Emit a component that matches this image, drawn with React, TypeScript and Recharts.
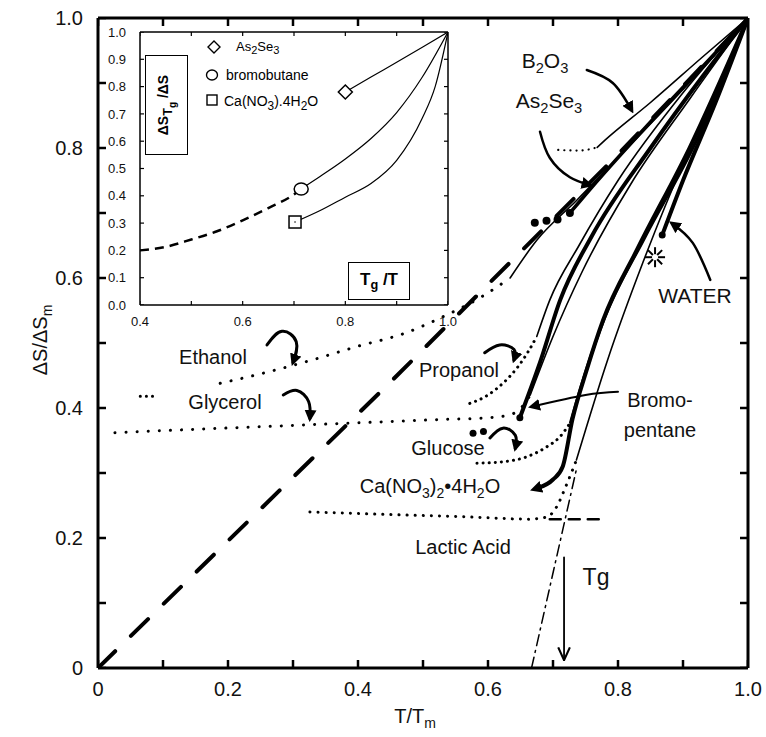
import React from 'react';
import { ComposedChart, Line, Scatter, XAxis, YAxis, ReferenceLine } from 'recharts';

const FONT = '"Liberation Sans", Arial, Helvetica, sans-serif';

// ---------- main chart data (x = T/Tm, y = ΔS/ΔSm) ----------
const mainTicks = [0, 0.1, 0.2, 0.3, 0.4, 0.5, 0.6, 0.7, 0.8, 0.9, 1.0];
const mainLabelled = [0, 0.2, 0.4, 0.6, 0.8, 1.0];

const diagonalDashed = [[0, 0], [0.45, 0.44], [0.63, 0.62], [0.8, 0.79], [1, 1]];
const tgDashDot = [[0.667, 0], [0.737, 0.31]];
const tgArrow = [[0.717, 0.17], [0.717, 0.012]];
const lacticHDash = [[0.695, 0.229], [0.78, 0.229]];

const ethanolStub = [[0.065, 0.418], [0.09, 0.418]];
const ethanolGlass = [[0.188, 0.438], [0.26, 0.455], [0.33, 0.474], [0.4, 0.495], [0.472, 0.515], [0.53, 0.54], [0.59, 0.571], [0.634, 0.6]];
const ethanolLiquid = [[0.634, 0.6], [0.675, 0.658], [0.737, 0.72], [0.8, 0.785], [0.9, 0.89], [1, 1]];
const b2o3Glass = [[0.708, 0.797], [0.74, 0.796], [0.768, 0.801]];
const b2o3Liquid = [[0.768, 0.801], [0.78, 0.812], [0.85, 0.87], [0.93, 0.94], [1, 1]];
const as2se3Glass = [[0.672, 0.685], [0.69, 0.688], [0.707, 0.69], [0.726, 0.7]];
const as2se3Liquid = [[0.726, 0.7], [0.76, 0.74], [0.85, 0.84], [0.93, 0.925], [1, 1]];
const propanolGlass = [[0.572, 0.407], [0.6, 0.42], [0.625, 0.44], [0.645, 0.462], [0.662, 0.487], [0.675, 0.51]];
const propanolLiquid = [[0.675, 0.51], [0.695, 0.566], [0.74, 0.65], [0.8, 0.75], [0.9, 0.885], [1, 1]];
const glycerolGlass = [[0.026, 0.362], [0.12, 0.366], [0.22, 0.37], [0.32, 0.374], [0.42, 0.378], [0.52, 0.382], [0.6, 0.385], [0.635, 0.39], [0.655, 0.405], [0.665, 0.42]];
const glycerolLiquid = [[0.665, 0.42], [0.7, 0.51], [0.745, 0.61], [0.82, 0.745], [0.91, 0.875], [1, 1]];
const bromopentaneLiquid = [[0.649, 0.385], [0.68, 0.47], [0.711, 0.566], [0.76, 0.665], [0.85, 0.8], [0.93, 0.91], [1, 1]];
const glucoseGlass = [[0.583, 0.315], [0.62, 0.317], [0.66, 0.325], [0.69, 0.34], [0.71, 0.355], [0.727, 0.378]];
const glucoseLiquid = [[0.727, 0.378], [0.75, 0.455], [0.78, 0.54], [0.84, 0.66], [0.92, 0.81], [1, 1]];
const caLiquid = [[0.677, 0.277], [0.7, 0.29], [0.715, 0.31], [0.73, 0.383], [0.752, 0.459], [0.777, 0.535], [0.83, 0.645], [0.91, 0.8], [1, 1]];
const lacticGlass = [[0.326, 0.24], [0.45, 0.236], [0.58, 0.232], [0.66, 0.229], [0.69, 0.232], [0.705, 0.247], [0.72, 0.28], [0.736, 0.32]];
const lacticLiquid = [[0.736, 0.32], [0.784, 0.474], [0.838, 0.623], [0.9, 0.775], [0.95, 0.88], [1, 1]];
const waterLiquid = [[0.868, 0.666], [0.9, 0.75], [0.95, 0.87], [1, 1]];

const bigDots = [[0.577, 0.361], [0.593, 0.364], [0.649, 0.385], [0.868, 0.666]];
const waterStar = [[0.857, 0.632]];

const ethanolArrow = [[0.26, 0.497], [0.283, 0.518], [0.305, 0.502], [0.3, 0.47]];
const glycerolArrow = [[0.285, 0.42], [0.306, 0.427], [0.324, 0.41], [0.326, 0.384]];
const propanolArrow = [[0.595, 0.485], [0.618, 0.497], [0.64, 0.49], [0.64, 0.474]];
const glucoseArrow = [[0.603, 0.354], [0.623, 0.369], [0.642, 0.358], [0.642, 0.338]];
const b2o3Arrow = [[0.752, 0.92], [0.792, 0.9], [0.821, 0.858]];
const as2se3Arrow = [[0.68, 0.825], [0.695, 0.785], [0.726, 0.755], [0.757, 0.743]];
const waterArrow = [[0.942, 0.597], [0.915, 0.654], [0.883, 0.684]];
const bromoArrow = [[0.8, 0.425], [0.75, 0.42], [0.667, 0.402]];

// ---------- inset data (x = Tg/T, y = ΔS_Tg/ΔS) ----------
const insetXTicks = [0.4, 0.5, 0.6, 0.7, 0.8, 0.9, 1.0];
const insetXLabelled = [0.4, 0.6, 0.8, 1.0];
const insetYTicks = [0, 0.1, 0.2, 0.3, 0.4, 0.5, 0.6, 0.7, 0.8, 0.9, 1.0];
const insetAsSe = [[0.8, 0.78], [0.85, 0.835], [0.9, 0.889], [0.95, 0.944], [1, 1]];
const insetBromobutane = [[0.714, 0.425], [0.75, 0.47], [0.8, 0.535], [0.85, 0.61], [0.9, 0.705], [0.95, 0.835], [1, 1]];
const insetCa = [[0.702, 0.304], [0.75, 0.345], [0.8, 0.395], [0.85, 0.445], [0.9, 0.53], [0.95, 0.685], [0.975, 0.8], [1, 1]];
const insetDashed = [[0.4, 0.2], [0.45, 0.213], [0.5, 0.24], [0.55, 0.27], [0.6, 0.31], [0.65, 0.355], [0.7, 0.405], [0.714, 0.425]];
const insetDiamond = [[0.8, 0.78]];
const insetCircle = [[0.714, 0.425]];
const insetSquare = [[0.702, 0.304]];

const pts = (a: number[][]) => a.map(([x, y]) => ({ x, y }));
const isIn = (v: number, arr: number[]) => arr.some((t) => Math.abs(t - v) < 1e-9);

type S = { d: number[][]; w: number; dash?: string; curve?: any; mEnd?: string; mStart?: string };
const DOT = '0.1 11';
const DOTF = '0.1 6';

const mainSeries: S[] = [
  { d: diagonalDashed, w: 4, dash: '24 22', curve: 'linear' },
  { d: tgDashDot, w: 1.5, dash: '11 5 2 5', curve: 'linear' },
  { d: tgArrow, w: 1.8, curve: 'linear', mEnd: 'url(#openHead)' },
  { d: lacticHDash, w: 2.5, dash: '11 8', curve: 'linear' },
  { d: ethanolStub, w: 3, dash: DOTF, curve: 'linear' },
  { d: ethanolGlass, w: 3, dash: DOT },
  { d: ethanolLiquid, w: 1.6 },
  { d: b2o3Glass, w: 2.2, dash: DOTF },
  { d: b2o3Liquid, w: 1.6 },
  { d: as2se3Liquid, w: 3.5 },
  { d: propanolGlass, w: 3, dash: DOTF },
  { d: propanolLiquid, w: 1.6 },
  { d: glycerolGlass, w: 3, dash: DOT },
  { d: glycerolLiquid, w: 1.6 },
  { d: bromopentaneLiquid, w: 4 },
  { d: glucoseGlass, w: 3, dash: DOTF },
  { d: glucoseLiquid, w: 3 },
  { d: caLiquid, w: 4, mStart: 'url(#fillHeadStart)' },
  { d: lacticGlass, w: 3, dash: '0.1 8' },
  { d: lacticLiquid, w: 1.6 },
  { d: waterLiquid, w: 4 },
  { d: ethanolArrow, w: 3, curve: 'natural', mEnd: 'url(#fillHead)' },
  { d: glycerolArrow, w: 3, curve: 'natural', mEnd: 'url(#fillHead)' },
  { d: propanolArrow, w: 3, curve: 'natural', mEnd: 'url(#fillHead)' },
  { d: glucoseArrow, w: 3, curve: 'natural', mEnd: 'url(#fillHead)' },
  { d: b2o3Arrow, w: 2.5, curve: 'natural', mEnd: 'url(#fillHead)' },
  { d: as2se3Arrow, w: 2.5, curve: 'natural', mEnd: 'url(#fillHead)' },
  { d: waterArrow, w: 2.5, curve: 'natural', mEnd: 'url(#fillHead)' },
  { d: bromoArrow, w: 2, curve: 'natural', mEnd: 'url(#fillHead)' },
];

const DotShape = (r: number) => (p: any) => <circle cx={p.cx} cy={p.cy} r={r} fill="#000" />;
const StarShape = (p: any) => (
  <g stroke="#000" strokeWidth={2}>
    {[0, 45, 90, 135, 180, 225, 270, 315].map((a) => {
      const rad = (a * Math.PI) / 180;
      return (
        <line key={a} x1={p.cx + 3 * Math.cos(rad)} y1={p.cy + 3 * Math.sin(rad)} x2={p.cx + 10 * Math.cos(rad)} y2={p.cy + 10 * Math.sin(rad)} />
      );
    })}
  </g>
);
const DiamondShape = (p: any) => (
  <polygon points={`${p.cx},${p.cy - 7} ${p.cx + 7},${p.cy} ${p.cx},${p.cy + 7} ${p.cx - 7},${p.cy}`} fill="#fff" stroke="#000" strokeWidth={1.5} />
);
const CircleShape = (p: any) => <ellipse cx={p.cx} cy={p.cy} rx={7} ry={6} fill="#fff" stroke="#000" strokeWidth={1.5} />;
const SquareShape = (p: any) => (
  <g>
    <rect x={p.cx - 6} y={p.cy - 6} width={12} height={12} fill="#fff" stroke="#000" strokeWidth={1.5} />
    <circle cx={p.cx} cy={p.cy} r={0.8} fill="#000" />
  </g>
);
// inward tick mark shapes (dx, dy = direction into the plot)
const TickShape = (dx: number, dy: number, len: number, w: number) => (p: any) => (
  <line x1={p.cx} y1={p.cy} x2={p.cx + dx * len} y2={p.cy + dy * len} stroke="#000" strokeWidth={w} />
);

const Lbl = ({ x, y, size = 20, children, style }: any) => (
  <div
    style={{
      position: 'absolute',
      left: x,
      top: y,
      transform: 'translate(-50%, -50%)',
      fontSize: size,
      lineHeight: 1,
      whiteSpace: 'nowrap',
      color: '#111',
      fontFamily: FONT,
      ...style,
    }}
  >
    {children}
  </div>
);
const sub = (t: string, s = 0.7) => <sub style={{ fontSize: `${s}em`, verticalAlign: '-0.3em' }}>{t}</sub>;

const tickScatters = (xs: number[], ys: number[], xDom: number[], yDom: number[], len: number, w: number) => [
  <Scatter key="tb" data={xs.map((x) => ({ x, y: yDom[0] }))} dataKey="y" shape={TickShape(0, -1, len, w)} isAnimationActive={false} />,
  <Scatter key="tt" data={xs.map((x) => ({ x, y: yDom[1] }))} dataKey="y" shape={TickShape(0, 1, len, w)} isAnimationActive={false} />,
  <Scatter key="tl" data={ys.map((y) => ({ x: xDom[0], y }))} dataKey="y" shape={TickShape(1, 0, len, w)} isAnimationActive={false} />,
  <Scatter key="tr" data={ys.map((y) => ({ x: xDom[1], y }))} dataKey="y" shape={TickShape(-1, 0, len, w)} isAnimationActive={false} />,
];

export default function App() {
  const axisStyle = { stroke: '#000', strokeWidth: 3 };
  const tickFont = { fill: '#111', fontSize: 20, fontFamily: FONT };
  const fmtMain = (v: number) => (isIn(v, mainLabelled) ? (v === 0 ? '0' : v.toFixed(1)) : '');
  const insetAxis = { stroke: '#000', strokeWidth: 1.5 };
  const insetFont = { fill: '#111', fontSize: 13, fontFamily: FONT };

  return (
    <div style={{ position: 'absolute', left: 0, top: 0, width: 766, height: 737, background: '#fff', fontFamily: FONT, overflow: 'hidden' }}>
      <svg width={0} height={0} style={{ position: 'absolute' }}>
        <defs>
          <marker id="fillHead" viewBox="0 0 10 10" refX="7" refY="5" markerWidth="12" markerHeight="12" markerUnits="userSpaceOnUse" orient="auto">
            <path d="M0,0 L10,5 L0,10 z" fill="#000" />
          </marker>
          <marker id="fillHeadStart" viewBox="0 0 10 10" refX="3" refY="5" markerWidth="12" markerHeight="12" markerUnits="userSpaceOnUse" orient="auto-start-reverse">
            <path d="M0,0 L10,5 L0,10 z" fill="#000" />
          </marker>
          <marker id="openHead" viewBox="0 0 12 12" refX="11" refY="6" markerWidth="14" markerHeight="14" markerUnits="userSpaceOnUse" orient="auto">
            <path d="M0,1 L11,6 L0,11" fill="none" stroke="#000" strokeWidth="1.8" />
          </marker>
        </defs>
      </svg>

      {/* main chart */}
      <div style={{ position: 'absolute', left: 0, top: 0 }}>
        <ComposedChart width={766} height={737} margin={{ top: 18, right: 18, bottom: 19, left: 0 }}>
          <XAxis dataKey="x" type="number" domain={[0, 1]} ticks={mainTicks} tickFormatter={fmtMain} axisLine={axisStyle} tickLine={false} tickMargin={8} tick={tickFont} height={50} interval={0} allowDataOverflow />
          <YAxis dataKey="y" type="number" domain={[0, 1]} ticks={mainTicks} tickFormatter={fmtMain} axisLine={axisStyle} tickLine={false} tickMargin={9} tick={tickFont} width={98} interval={0} allowDataOverflow />
          <ReferenceLine y={1} stroke="#000" strokeWidth={3} ifOverflow="visible" />
          <ReferenceLine x={1} stroke="#000" strokeWidth={3} ifOverflow="visible" />
          {tickScatters(mainTicks, mainTicks, [0, 1], [0, 1], 8, 2.5)}
          {mainSeries.map((s, i) => (
            <Line
              key={i}
              data={pts(s.d)}
              dataKey="y"
              type={s.curve || 'monotone'}
              stroke="#000"
              strokeWidth={s.w}
              strokeDasharray={s.dash}
              strokeLinecap="round"
              markerEnd={s.mEnd}
              markerStart={s.mStart}
              dot={false}
              activeDot={false}
              isAnimationActive={false}
            />
          ))}
          <Scatter data={pts(as2se3Glass)} dataKey="y" shape={DotShape(4)} isAnimationActive={false} />
          <Scatter data={pts(bigDots)} dataKey="y" shape={DotShape(3.5)} isAnimationActive={false} />
          <Scatter data={pts(waterStar)} dataKey="y" shape={StarShape} isAnimationActive={false} />
        </ComposedChart>
      </div>

      {/* inset chart */}
      <div style={{ position: 'absolute', left: 0, top: 0 }}>
        <ComposedChart width={460} height={340} margin={{ top: 32, right: 12, bottom: 10, left: 100 }}>
          <XAxis dataKey="x" type="number" domain={[0.4, 1]} ticks={insetXTicks} tickFormatter={(v: number) => (isIn(v, insetXLabelled) ? v.toFixed(1) : '')} axisLine={insetAxis} tickLine={false} tickMargin={6} tick={insetFont} height={25} interval={0} allowDataOverflow />
          <YAxis dataKey="y" type="number" domain={[0, 1]} ticks={insetYTicks} tickFormatter={(v: number) => v.toFixed(1)} axisLine={insetAxis} tickLine={false} tickMargin={8} tick={insetFont} width={40} interval={0} allowDataOverflow />
          <ReferenceLine y={1} stroke="#000" strokeWidth={1.5} ifOverflow="visible" />
          <ReferenceLine x={1} stroke="#000" strokeWidth={1.5} ifOverflow="visible" />
          {tickScatters(insetXTicks, insetYTicks, [0.4, 1], [0, 1], 4, 1.2)}
          <Line data={pts(insetAsSe)} dataKey="y" type="monotone" stroke="#000" strokeWidth={1.2} dot={false} activeDot={false} isAnimationActive={false} />
          <Line data={pts(insetBromobutane)} dataKey="y" type="monotone" stroke="#000" strokeWidth={1.2} dot={false} activeDot={false} isAnimationActive={false} />
          <Line data={pts(insetCa)} dataKey="y" type="monotone" stroke="#000" strokeWidth={1.2} dot={false} activeDot={false} isAnimationActive={false} />
          <Line data={pts(insetDashed)} dataKey="y" type="monotone" stroke="#000" strokeWidth={2.5} strokeDasharray="9 6" dot={false} activeDot={false} isAnimationActive={false} />
          <Scatter data={pts(insetDiamond)} dataKey="y" shape={DiamondShape} isAnimationActive={false} />
          <Scatter data={pts(insetCircle)} dataKey="y" shape={CircleShape} isAnimationActive={false} />
          <Scatter data={pts(insetSquare)} dataKey="y" shape={SquareShape} isAnimationActive={false} />
        </ComposedChart>
      </div>

      {/* inset legend */}
      <svg width={20} height={70} style={{ position: 'absolute', left: 202, top: 38 }}>
        <polygon points="12,3 18,9 12,15 6,9" fill="#fff" stroke="#000" strokeWidth={1.4} />
        <ellipse cx={10} cy={37} rx={5.5} ry={5} fill="#fff" stroke="#000" strokeWidth={1.4} />
        <rect x={5} y={57} width={10} height={10} fill="#fff" stroke="#000" strokeWidth={1.4} />
      </svg>
      <div style={{ position: 'absolute', left: 236, top: 40, fontSize: 13, lineHeight: 1, whiteSpace: 'nowrap' }}>As{sub('2', 0.85)}Se{sub('3', 0.85)}</div>
      <div style={{ position: 'absolute', left: 226, top: 68, fontSize: 14, lineHeight: 1, whiteSpace: 'nowrap' }}>bromobutane</div>
      <div style={{ position: 'absolute', left: 224, top: 94, fontSize: 14, lineHeight: 1, whiteSpace: 'nowrap' }}>Ca(NO{sub('3', 0.85)}).4H{sub('2', 0.85)}O</div>

      {/* inset axis label boxes */}
      <div style={{ position: 'absolute', left: 145, top: 55, width: 43, height: 100, border: '1.5px solid #000', boxSizing: 'border-box', background: '#fff' }}>
        <div style={{ position: 'absolute', left: '50%', top: '50%', transform: 'translate(-50%, -50%) rotate(-90deg)', fontSize: 14, fontWeight: 'bold', whiteSpace: 'nowrap', lineHeight: 1 }}>
          ΔS{sub('T', 0.9)}<span style={{ fontSize: 10, verticalAlign: '-0.8em' }}>g</span> /ΔS
        </div>
      </div>
      <div style={{ position: 'absolute', left: 348, top: 262, width: 62, height: 38, border: '1.5px solid #000', boxSizing: 'border-box', background: '#fff' }}>
        <div style={{ position: 'absolute', left: '50%', top: '50%', transform: 'translate(-50%, -50%)', fontSize: 17, fontWeight: 'bold', whiteSpace: 'nowrap', lineHeight: 1 }}>
          T{sub('g', 0.75)} /T
        </div>
      </div>

      {/* main labels */}
      <Lbl x={545} y={63} size={21}>B{sub('2')}O{sub('3')}</Lbl>
      <Lbl x={549} y={103} size={21}>As{sub('2')}Se{sub('3')}</Lbl>
      <Lbl x={695} y={295} size={21}>WATER</Lbl>
      <Lbl x={213} y={357}>Ethanol</Lbl>
      <Lbl x={225} y={402}>Glycerol</Lbl>
      <Lbl x={459} y={370}>Propanol</Lbl>
      <Lbl x={660} y={400}>Bromo-</Lbl>
      <Lbl x={660} y={430}>pentane</Lbl>
      <Lbl x={448} y={448}>Glucose</Lbl>
      <Lbl x={430} y={488}>Ca(NO{sub('3')}){sub('2')}•4H{sub('2')}O</Lbl>
      <Lbl x={463} y={547}>Lactic Acid</Lbl>
      <Lbl x={596} y={577} size={23}>Tg</Lbl>
      <Lbl x={415} y={718}>T/T{sub('m')}</Lbl>
      <Lbl x={42} y={340} style={{ transform: 'translate(-50%, -50%) rotate(-90deg)' }}>ΔS/ΔS{sub('m')}</Lbl>
    </div>
  );
}
